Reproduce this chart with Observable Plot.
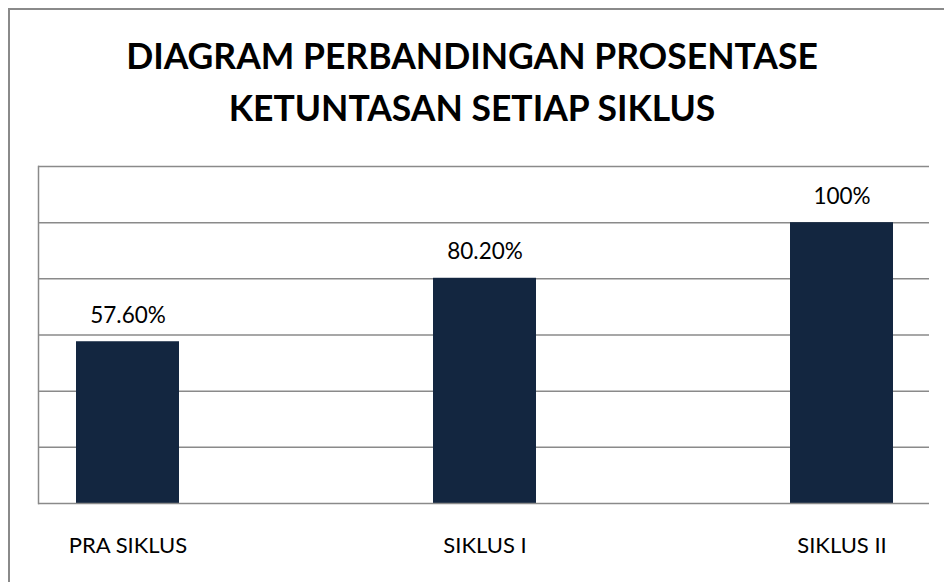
<!DOCTYPE html>
<html>
<head>
<meta charset="utf-8">
<script src="https://cdn.jsdelivr.net/npm/d3@7"></script>
<script src="https://cdn.jsdelivr.net/npm/@observablehq/plot@0.6"></script>
<style>
  html, body { margin: 0; padding: 0; background: #fff; }
  #wrap { position: relative; width: 944px; height: 582px; overflow: hidden; background: #fff; }
  #border { position: absolute; left: 8px; top: 8px; width: 940px; height: 580px;
            border-left: 2px solid #8a8a8a; border-top: 2px solid #8a8a8a; box-sizing: border-box; }
  #title { position: absolute; left: 0; top: 30px; width: 944px; text-align: center;
           font-family: Lato, sans-serif; font-weight: 700; font-size: 35.5px; line-height: 52px; color: #000; }
  #chart { position: absolute; left: 0; top: 0; }
</style>
</head>
<body>
<div id="wrap">
  <div id="chart"></div>
  <div id="border"></div>
  <div id="title">DIAGRAM PERBANDINGAN PROSENTASE<br>KETUNTASAN SETIAP SIKLUS</div>
</div>
<script>
const categories = ["PRA SIKLUS", "SIKLUS I", "SIKLUS II"];
const values = [57.6, 80.2, 100];
const valueLabels = ["57.60%", "80.20%", "100%"];
const gridTicks = [20, 40, 60, 80, 100, 120];

const data = categories.map((c, i) => ({category: c, value: values[i], label: valueLabels[i]}));

const chart = Plot.plot({
  width: 944,
  height: 582,
  marginTop: 166,
  marginBottom: 79,
  marginLeft: 38,
  marginRight: 15,
  style: {fontFamily: "Lato, sans-serif", fontSize: "22px", color: "#000", background: "transparent"},
  x: {domain: categories, range: [76, 893], paddingInner: 0.7115, paddingOuter: 0, label: null},
  y: {domain: [0, 120], label: null},
  marks: [
    Plot.ruleY(gridTicks, {stroke: "#8a8a8a", strokeWidth: 1.5, strokeOpacity: 1}),
    Plot.barY(data, {x: "category", y: "value", fill: "#132640"}),
    Plot.ruleY([0], {stroke: "#8a8a8a", strokeWidth: 1.5, strokeOpacity: 1}),
    Plot.frame({anchor: "left", stroke: "#8a8a8a", strokeWidth: 1.5, strokeOpacity: 1}),
    Plot.text(data, {x: "category", y: "value", text: "label", lineAnchor: "bottom", dy: -19, fill: "#000", fontSize: 22.5}),
    Plot.axisX({tickSize: 0, tickPadding: 34, fontSize: 22, label: null}),
    Plot.axisY({ticks: [], label: null})
  ]
});
document.getElementById("chart").appendChild(chart);
</script>
</body>
</html>
